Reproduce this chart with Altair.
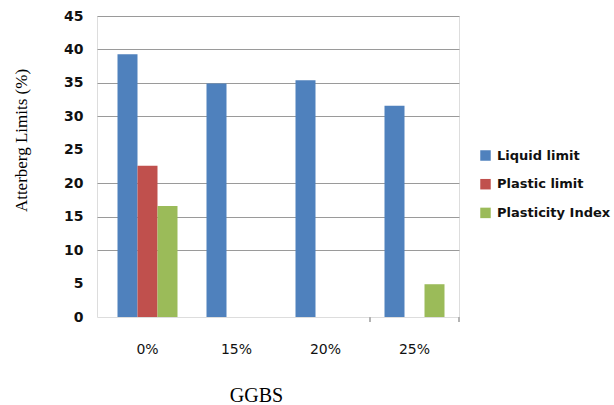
import altair as alt
import pandas as pd

# Atterberg limits of soil for each GGBS content
ggbs = ["0%", "15%", "20%", "25%"]
series = ["Liquid limit", "Plastic limit", "Plasticity Index"]
liquid_limit = [39.3, 34.9, 35.4, 31.6]
plastic_limit = [22.6, None, None, None]
plasticity_index = [16.6, None, None, 4.9]
colors = ["#4F81BD", "#C0504D", "#9BBB59"]
y_ticks = [0, 5, 10, 15, 20, 25, 30, 35, 40, 45]
marked_band = ["25%"]  # category whose band edges carry a tick

rows = []
for name, vals in zip(series, [liquid_limit, plastic_limit, plasticity_index]):
    for g, v in zip(ggbs, vals):
        if v is not None:
            rows.append({"GGBS": g, "Series": name, "Value": v})
df = pd.DataFrame(rows)
edge_df = pd.DataFrame({"GGBS": marked_band})

x_scale = alt.Scale(domain=ggbs, paddingInner=0, paddingOuter=0.0337, align=1)

x_axis = alt.Axis(
    title="GGBS",
    titleFont="Liberation Serif",
    titleFontSize=20,
    titleFontWeight="normal",
    titleColor="#000000",
    titleX=159,
    titleY=78,
    titleAlign="center",
    titleBaseline="middle",
    labelAngle=0,
    labelFont="DejaVu Sans",
    labelFontSize=14,
    labelColor="#111111",
    labelPadding=20,
    domain=False,
    grid=False,
    tickSize=5,
    tickOpacity=0,
)

y_axis = alt.Axis(
    title="Atterberg Limits (%)",
    titleFont="Liberation Serif",
    titleFontSize=17,
    titleFontWeight="normal",
    titleColor="#000000",
    titleX=-76,
    titleY=124,
    titleAngle=-90,
    titleAlign="center",
    titleBaseline="middle",
    values=y_ticks,
    labelFont="DejaVu Sans",
    labelFontSize=14,
    labelFontWeight="bold",
    labelColor="#111111",
    labelPadding=14,
    ticks=False,
    domain=False,
    grid=True,
    gridColor="#9a9a9a",
    gridWidth=1,
    gridOpacity={"condition": {"test": "datum.value === 25 || datum.value <= 5", "value": 0}, "value": 1},
)

bars = (
    alt.Chart(df)
    .mark_bar()
    .encode(
        x=alt.X("GGBS:N", sort=ggbs, scale=x_scale, axis=x_axis),
        xOffset=alt.XOffset(
            "Series:N",
            sort=series,
            scale=alt.Scale(domain=series, paddingInner=0, paddingOuter=0.725),
        ),
        y=alt.Y(
            "Value:Q",
            scale=alt.Scale(domain=[0, 45], nice=False),
            axis=y_axis,
        ),
        color=alt.Color(
            "Series:N",
            sort=series,
            scale=alt.Scale(domain=series, range=colors),
            legend=alt.Legend(
                title=None,
                orient="none",
                legendX=382,
                legendY=133,
                symbolType="square",
                symbolSize=110,
                symbolStrokeWidth=0,
                labelFont="DejaVu Sans",
                labelFontSize=13,
                labelFontWeight="bold",
                labelColor="#111111",
                labelOffset=5,
                labelLimit=200,
                rowPadding=14.7,
            ),
        ),
    )
)


def band_edge(position):
    # short category tick hanging below the baseline at a band edge
    return (
        alt.Chart(edge_df)
        .mark_rule(color="#b4b4b4", strokeWidth=2)
        .encode(
            x=alt.X("GGBS:N", sort=ggbs, scale=x_scale, bandPosition=position),
            y=alt.value(301),
            y2=alt.value(306),
        )
    )


chart = (
    alt.layer(bars, band_edge(0), band_edge(1))
    .properties(
        width=362,
        height=301,
        autosize=alt.AutoSizeParams(type="none"),
        padding={"left": 97, "top": 16, "right": 155, "bottom": 88},
    )
    .configure_view(stroke=None)
    .configure(background="#ffffff")
)

chart.save("out.html", embed_options={"renderer": "svg", "actions": False})
